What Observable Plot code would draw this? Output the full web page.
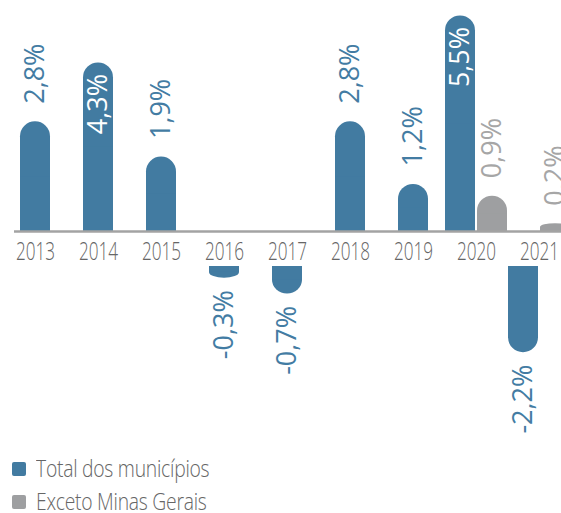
<!DOCTYPE html>
<html>
<head>
<meta charset="utf-8">
<script src="https://cdn.jsdelivr.net/npm/d3@7"></script>
<script src="https://cdn.jsdelivr.net/npm/@observablehq/plot@0.6"></script>
<style>
  html, body { margin: 0; padding: 0; background: #fff; overflow: hidden; }
  #wrap { position: relative; width: 561px; height: 513px; font-family: "Open Sans", sans-serif; }
  #chart svg { display: block; }
  .legend { position: absolute; left: 12px; top: 452px; }
  .row { display: flex; align-items: center; height: 33px; }
  .sw { width: 14px; height: 14px; border-radius: 2px; margin-right: 10px; flex: none; }
  .lt { display: inline-block; font-size: 23px; line-height: 1.1; font-weight: 300; color: #666; transform: scaleX(0.84); transform-origin: left center; white-space: nowrap; letter-spacing: -0.3px; }
</style>
</head>
<body>
<div id="wrap">
  <div id="chart"></div>
  <div class="legend" id="legend"></div>
</div>
<script>
const years = ["2013", "2014", "2015", "2016", "2017", "2018", "2019", "2020", "2021"];
const totalValues = [2.8, 4.3, 1.9, -0.3, -0.7, 2.8, 1.2, 5.5, -2.2];
const excetoValues = [null, null, null, null, null, null, null, 0.9, 0.2];
const seriesNames = ["Total dos municípios", "Exceto Minas Gerais"];
const seriesColors = ["#427ba1", "#9e9fa1"];
const labelColors = ["#437ca3", "#a6a6a6"];

const fmt = v => (v.toFixed(1).replace(".", ",")) + "%";

const rows = [];
years.forEach((y, i) => {
  const paired = excetoValues[i] != null;
  rows.push({year: y, value: totalValues[i], s: 0, paired});
  if (paired) rows.push({year: y, value: excetoValues[i], s: 1, paired});
});

const groups = [
  {data: rows.filter(d => d.s === 0 && !d.paired), dx: 0},
  {data: rows.filter(d => d.s === 0 && d.paired), dx: -16},
  {data: rows.filter(d => d.s === 1), dx: 16}
];

const NEG = 35; // gap band for tick labels below the axis
const marks = [];
for (const g of groups) {
  for (const sign of [1, -1]) {
    const data = g.data.filter(d => Math.sign(d.value) === sign);
    if (!data.length) continue;
    const dy = sign < 0 ? NEG : 0;
    const fill = d => seriesColors[d.s];
    marks.push(Plot.rectY(data, {x: "year", y1: 0, y2: "value", fill, rx: 15, dx: g.dx, dy}));
    marks.push(Plot.rectY(data, {x: "year", y1: 0, y2: d => d.value / 2, fill, dx: g.dx, dy}));
  }
  const outsidePos = g.data.filter(d => d.value > 0 && d.value <= 4);
  const insidePos = g.data.filter(d => d.value > 4);
  const negs = g.data.filter(d => d.value < 0);
  const common = {x: "year", y: "value", text: d => fmt(d.value), rotate: -90, fontSize: 27, dx: g.dx};
  marks.push(Plot.text(outsidePos, {...common, textAnchor: "start", dy: -18, fill: d => labelColors[d.s]}));
  marks.push(Plot.text(insidePos, {...common, textAnchor: "end", dy: 11, fill: "white"}));
  marks.push(Plot.text(negs, {...common, textAnchor: "end", dy: NEG + 12, fill: d => labelColors[d.s]}));
}
marks.push(Plot.ruleY([0], {stroke: "#a3a3a3", strokeWidth: 2.5}));
marks.push(Plot.text(years, {x: d => d, y: () => 0, text: d => d, dy: 20, fontSize: 26, fontWeight: 300, fill: "#666", className: "yr"}));

const chart = Plot.plot({
  width: 561,
  height: 445,
  marginLeft: 14,
  marginRight: 0,
  marginTop: 0,
  marginBottom: 0,
  style: {fontFamily: "Open Sans", background: "white", overflow: "hidden"},
  x: {domain: years, range: [-14.3, 588.2], padding: 0.526, axis: null},
  y: {domain: [0, 5.5], range: [231, 231 - 5.5 * 39.2], axis: null},
  marks
});
document.getElementById("chart").appendChild(chart);

d3.select(chart).selectAll(".yr text").each(function() {
  const t = this.getAttribute("transform") || "";
  this.setAttribute("transform", t + " scale(0.66,1)");
});

const legend = document.getElementById("legend");
seriesNames.forEach((name, i) => {
  const row = document.createElement("div");
  row.className = "row";
  row.innerHTML = `<span class="sw" style="background:${seriesColors[i]}"></span><span class="lt">${name}</span>`;
  legend.appendChild(row);
});
</script>
</body>
</html>
